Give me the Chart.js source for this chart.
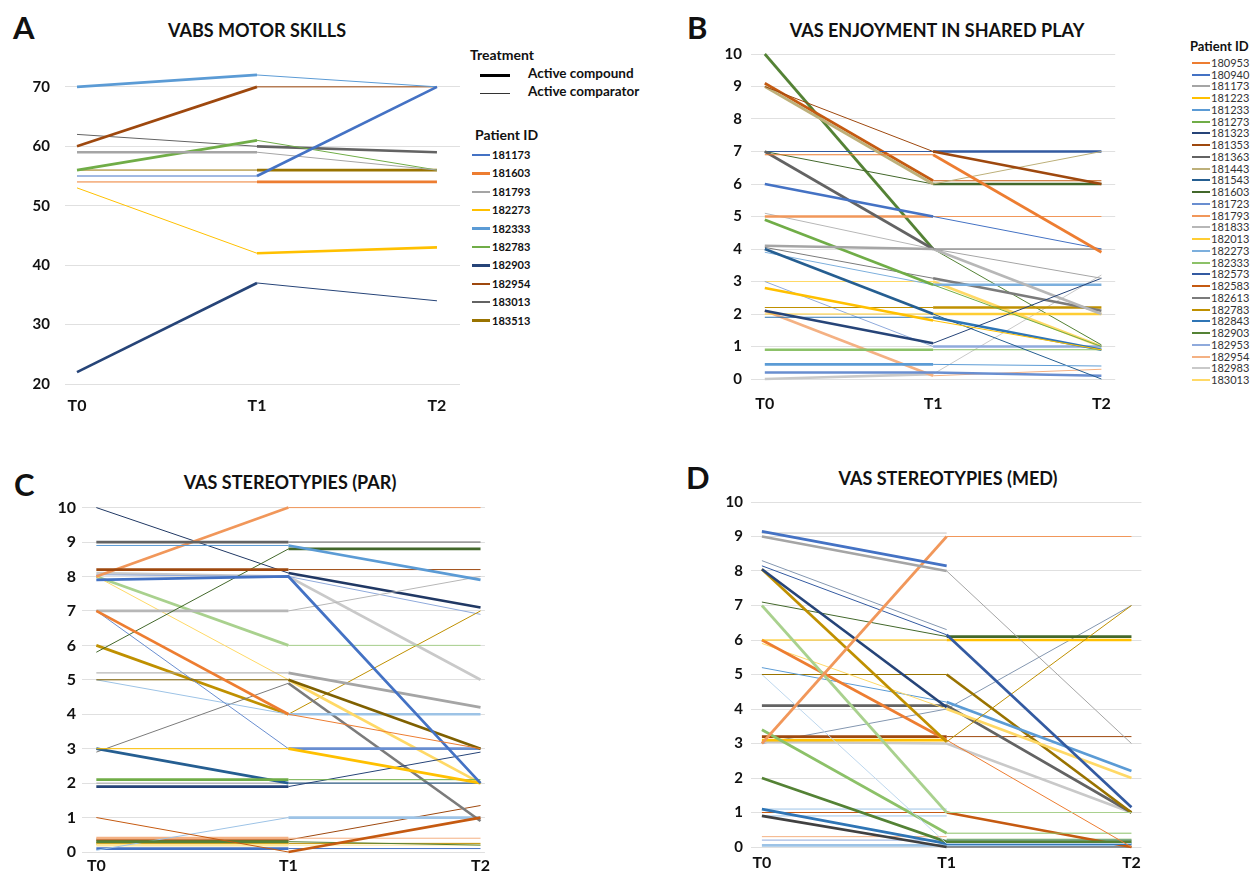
<!DOCTYPE html>
<html><head><meta charset="utf-8">
<script src="https://cdn.jsdelivr.net/npm/chart.js@4.4.1/dist/chart.umd.min.js"></script>
<style>
body{margin:0;width:1256px;height:876px;background:#fff;position:relative;overflow:hidden;font-family:Lato,'Open Sans',sans-serif;color:#111}
canvas{position:absolute}
.letter{position:absolute;font-weight:700;font-size:31px;line-height:1}
.title{position:absolute;font-weight:700;font-size:18px;white-space:nowrap;transform:translateX(-50%);line-height:1}
.lg{position:absolute;white-space:nowrap;line-height:1}
.sw{position:absolute}
</style></head><body>
<div class="letter" style="left:13px;top:12px">A</div>
<div class="title" style="left:257px;top:21px">VABS MOTOR SKILLS</div>
<div class="letter" style="left:687px;top:12px">B</div>
<div class="title" style="left:937px;top:21px">VAS ENJOYMENT IN SHARED PLAY</div>
<div class="letter" style="left:14px;top:469px">C</div>
<div class="title" style="left:290px;top:473px">VAS STEREOTYPIES (PAR)</div>
<div class="letter" style="left:686px;top:462px">D</div>
<div class="title" style="left:948px;top:469px">VAS STEREOTYPIES (MED)</div>

<canvas id="cA" width="445" height="371" style="left:20px;top:48px"></canvas>
<canvas id="cB" width="426" height="383" style="left:700px;top:36px"></canvas>
<canvas id="cC" width="474" height="384" style="left:20px;top:492px"></canvas>
<canvas id="cD" width="447" height="391" style="left:700px;top:485px"></canvas>
<div id="legends"></div>

<script>
// ---------- shared ----------
const timepoints = ['T0','T1','T2'];
const treatmentLabels = ['Active compound','Active comparator'];

// ---------- A: VABS motor skills ----------
const motorIds    = ['181173','181603','181793','182273','182333','182783','182903','182954','183013','183513'];
const motorColors = ['#4472C4','#ED7D31','#A5A5A5','#FFC000','#5B9BD5','#70AD47','#264478','#9E480E','#636363','#997300'];
const motorT0 = [55,54,59,53,70,56,22,60,62,56];
const motorT1 = [55,54,59,42,72,61,37,70,60,56];
const motorT2 = [70,54,56,43,70,56,34,70,59,56];
const motorP1 = ['P','P','C','P','C','C','C','C','P','P'];
const motorP2 = ['C','C','P','C','P','P','P','P','C','C'];

// ---------- B: VAS enjoyment in shared play ----------
const enjoyIds = ['180953','180940','181173','181223','181233','181273','181323','181353','181363','181443','181543','181603','181723','181793','181833','182013','182273','182333','182573','182583','182613','182783','182843','182903','182953','182954','182983','183013'];
const enjoyColors = ['#ED7D31','#4472C4','#A5A5A5','#FFC000','#5B9BD5','#70AD47','#264478','#9E480E','#636363','#BDB07A','#255E91','#43682B','#698ED0','#F1975A','#B7B7B7','#FFCD33','#7CAFDD','#8CC168','#335AA1','#C55A11','#7B7B7B','#BF9000','#2F75B5','#548235','#8FAADC','#F4B183','#C9C9C9','#FFD966'];
const enjoyT0 = [6.9,6,4.1,2.8,0.45,4.9,2.1,9.0,7,9.0,4.0,7.0,0.2,5,5.1,2,3.9,0.9,7,9.1,4.05,2.2,1.9,10,3.0,2.1,0.0,3.0];
const enjoyT1 = [6.9,5,4.0,1.8,0.45,2.9,1.1,7.0,4,6.0,2.0,6.0,0.2,5,4.0,2,2.9,0.9,7,6.1,3.1,2.2,1.9,4,1.0,0.1,0.15,3.0];
const enjoyT2 = [3.9,4,3.1,0.9,0.4,1.0,3.1,6.0,4,7.0,0.0,6.0,0.1,5,2.0,2,2.9,0.9,7,6.1,2.1,2.2,0.9,1.05,1.0,0.3,3.2,1.0];
const enjoyP1 = ['P','C','C','C','C','C','C','P','C','C','C','P','C','C','P','P','P','C','P','C','P','P','P','C','P','C','C','P'];
const enjoyP2 = ['C','P','P','P','P','P','P','C','P','P','P','C','C','P','C','C','C','P','C','P','C','C','C','P','C','P','P','C'];

// ---------- C: VAS stereotypies (PAR) ----------
const parColors = ['#ED7D31','#4472C4','#A5A5A5','#FFC000','#5B9BD5','#70AD47','#264478','#9E480E','#636363','#7F6000','#255E91','#43682B','#698ED0','#F1975A','#B7B7B7','#FFD966','#9DC3E6','#A9D18E','#203864','#C55A11','#7B7B7B','#BF9000','#8FAADC','#548235','#9DC3E6','#F4B183','#C9C9C9','#FFE699','#9E480E','#BF9000','#4472C4','#A5A5A5'];
const parT0 = [7,7.9,5.2,3,8.9,2.1,1.9,8.2,9,5,3,5.8,7,8,7,8,5,8,10,1,2.9,6,8.05,0.3,0.05,0.4,8.1,0.2,0.35,0.25,0.1,2.0];
const parT1 = [4,8.0,5.2,3,8.9,2.1,1.9,8.2,9,5,2,8.8,3,10,7,5,4,6,8.1,0,4.9,4,8.0,0.3,1,0.4,8.0,0.2,0.35,0.25,0.1,2.0];
const parT2 = [3,2.0,4.2,2,7.9,2.1,2.9,8.2,9,3,2,8.8,3,10,8,2,4,6,7.1,1,0.9,7,6.9,0.2,1,0.4,5.0,0.2,1.35,0.25,0.1,2.0];
const parP1 = ['C','C','P','P','P','C','C','C','C','P','C','P','P','C','C','P','P','C','P','P','P','C','P','C','P','C','C','C','C','C','C','P'];
const parP2 = ['P','C','C','C','C','P','P','P','P','C','P','C','C','P','P','C','C','P','C','C','C','P','P','P','C','P','C','P','P','P','P','P'];

// ---------- D: VAS stereotypies (MED) ----------
const medColors = ['#4472C4','#A5A5A5','#BFBFBF','#F1975A','#8497B0','#335AA1','#264478','#BF9000','#43682B','#A9D18E','#FFC000','#ED7D31','#FFD966','#5B9BD5','#997300','#BDD7EE','#636363','#8CC168','#9E480E','#FFC000','#C9C9C9','#8497B0','#548235','#2F75B5','#9DC3E6','#C55A11','#404040','#9DC3E6','#F4B183','#8FAADC','#9DC3E6','#70AD47'];
const medT0 = [9.15,9.0,9.1,3.0,8.3,8.15,8.05,8.05,7.1,7.0,6.0,6.0,5.9,5.2,5.0,5.0,4.1,3.4,3.2,3.1,3.05,3.0,2.0,1.1,1.1,1.0,0.9,0.9,0.3,0.2,0.05,null];
const medT1 = [8.15,8.0,9.1,9.0,6.3,6.15,4.05,3.05,6.1,1.0,6.0,3.1,4.0,4.2,5.0,0.1,4.1,0.4,3.2,3.1,3.0,4.0,0.15,0.1,1.1,1.0,0.0,0.9,0.3,0.2,0.05,0.2];
const medT2 = [null,3.0,null,9.0,null,1.15,null,7.0,6.1,1.0,6.0,0.0,2.0,2.2,1.0,0.1,1.0,0.4,3.2,null,1.0,7.0,0.15,0.1,null,0.0,0.0,null,null,0.2,0.05,0.2];
const medP1 = ['C','C','P','C','P','P','C','C','P','C','P','C','P','P','P','P','C','C','C','C','C','P','C','C','P','P','C','P','P','P','C',''];
const medP2 = ['','P','','P','','C','','P','C','P','C','P','C','C','C','P','C','P','P','','C','P','C','C','','C','P','','','P','C','C'];

// ---------- build ----------
const THICK = 2.7, THIN = 1;
function buildDatasets(t0,t1,t2,p1,p2,colors){
  return colors.map((c,i)=>{
    const vals=[t0[i],t1[i],t2[i]];
    const per=[p1[i],p2[i]];
    return {
      data: vals.map((v,k)=>({x:k,y:v})),
      borderColor:c, backgroundColor:c,
      pointRadius:0, pointHoverRadius:0, tension:0, clip:8,
      borderWidth:THIN,
      segment:{borderWidth: ctx => per[ctx.p0DataIndex]==='C' ? THICK : THIN}
    };
  });
}
Chart.defaults.font.family = 'Lato, "Open Sans", sans-serif';
function makeChart(id, datasets, o){
  return new Chart(document.getElementById(id), {
    type:'line',
    data:{datasets},
    options:{
      responsive:false, maintainAspectRatio:false, animation:false,
      layout:{padding:{top:0,right:o.padR,left:0,bottom:0}},
      plugins:{legend:{display:false}, tooltip:{enabled:false}},
      scales:{
        x:{type:'linear', min:o.xmin, max:o.xmax,
           grid:{display:false, drawTicks:false}, border:{display:false},
           ticks:{stepSize:1, includeBounds:false, autoSkip:false, maxRotation:0, padding:o.xPad,
                  color:'#111', font:{weight:'bold', size:o.xFont},
                  callback:v=> (Number.isInteger(v) && timepoints[v]) ? timepoints[v] : ''},
           afterFit:s=>{s.height=o.xH;}},
        y:{type:'linear', min:o.ymin, max:o.ymax,
           grid:{color:'#e0e0e0', lineWidth:1, drawTicks:false}, border:{display:false},
           ticks:{stepSize:o.step, includeBounds:false, padding:o.yPad, color:'#111',
                  font:{weight:'bold', size:o.yFont}},
           afterFit:s=>{s.width=o.yW;}}
      }
    }
  });
}
makeChart('cA', buildDatasets(motorT0,motorT1,motorT2,motorP1,motorP2,motorColors),
  {xmin:-0.0667,xmax:2.128,ymin:20,ymax:72.5,step:10,yW:45,xH:35,padR:5,xPad:12,yPad:15,xFont:16,yFont:15});
makeChart('cB', buildDatasets(enjoyT0,enjoyT1,enjoyT2,enjoyP1,enjoyP2,enjoyColors),
  {xmin:-0.082,xmax:2.082,ymin:0,ymax:10,step:1,yW:51,xH:40,padR:4,xPad:15,yPad:9,xFont:16,yFont:15});
makeChart('cC', buildDatasets(parT0,parT1,parT2,parP1,parP2,parColors),
  {xmin:-0.0746,xmax:2.023,ymin:0,ymax:10,step:1,yW:62,xH:24,padR:4,xPad:4,yPad:6,xFont:16,yFont:16});
makeChart('cD', buildDatasets(medT0,medT1,medT2,medP1,medP2,medColors),
  {xmin:-0.059,xmax:2.054,ymin:0,ymax:10,step:1,yW:51,xH:29,padR:4,xPad:6,yPad:8,xFont:16,yFont:15});

// ---------- HTML legends ----------
const L = document.getElementById('legends');
function add(html){ L.insertAdjacentHTML('beforeend', html); }
add(`<div class="lg" style="left:470px;top:48px;font-weight:700;font-size:14px">Treatment</div>`);
add(`<div class="sw" style="left:480px;top:73.5px;width:30px;height:3px;background:#000"></div>`);
add(`<div class="lg" style="left:528px;top:67px;font-weight:700;font-size:13.5px">${treatmentLabels[0]}</div>`);
add(`<div class="sw" style="left:480px;top:92.5px;width:30px;height:1px;background:#333"></div>`);
add(`<div class="lg" style="left:528px;top:85px;font-weight:700;font-size:13.5px">${treatmentLabels[1]}</div>`);
add(`<div class="lg" style="left:475px;top:128px;font-weight:700;font-size:14px">Patient ID</div>`);
motorIds.forEach((id,i)=>{
  const cy = 155 + i*18.4;
  add(`<div class="sw" style="left:472px;top:${cy-1.25}px;width:18px;height:2.5px;background:${motorColors[i]}"></div>`);
  add(`<div class="lg" style="left:492px;top:${cy-6}px;font-weight:700;font-size:11px">${id}</div>`);
});
add(`<div class="lg" style="left:1190px;top:40px;font-weight:700;font-size:13px">Patient ID</div>`);
enjoyIds.forEach((id,i)=>{
  const cy = 63 + i*11.74;
  add(`<div class="sw" style="left:1192px;top:${cy-1}px;width:18px;height:2px;background:${enjoyColors[i]}"></div>`);
  add(`<div class="lg" style="left:1211px;top:${cy-6}px;font-size:11px;color:#333">${id}</div>`);
});
</script>
</body></html>
